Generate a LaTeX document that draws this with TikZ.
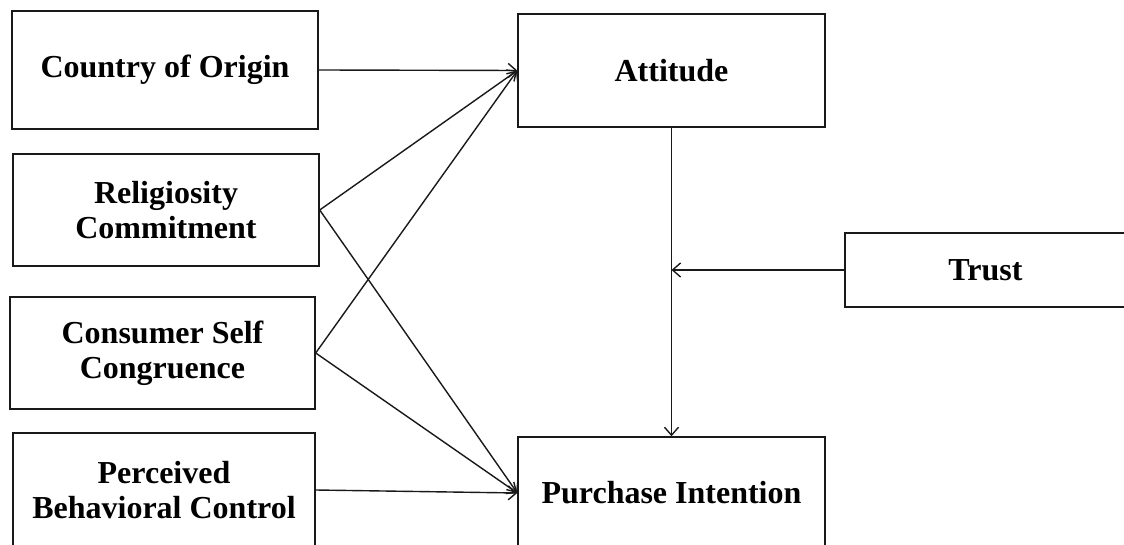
\documentclass[tikz,border=0pt]{standalone}
\usepackage{fontspec}
\setmainfont{Liberation Serif}
\usetikzlibrary{arrows.meta}
\begin{document}
\begin{tikzpicture}[x=1pt,y=-1pt,
  box/.style={draw=black!90,line width=1.4pt,rectangle,inner sep=0pt,align=center,
    font=\fontsize{32}{35}\selectfont\bfseries},
  conn/.style={draw=black!90,line width=1.4pt,-{Straight Barb[length=8pt,width=14pt,line width=1.4pt]}}]
\useasboundingbox (0,0) rectangle (1124,545);
\node[box,minimum width=306pt,minimum height=118pt] (coo) at (165,70) {\raisebox{-3pt}{Country of Origin}};
\node[box,minimum width=306pt,minimum height=112pt] (rel) at (166,210) {Religiosity\\Commitment};
\node[box,minimum width=305pt,minimum height=112pt] (csc) at (162.5,353) {Consumer Self\\Congruence};
\node[box,minimum width=302pt,minimum height=114pt] (pbc) at (164,490) {Perceived\\Behavioral Control};
\node[box,minimum width=307pt,minimum height=113pt] (att) at (671.5,70.5) {\raisebox{-2pt}{Attitude}};
\node[box,minimum width=307pt,minimum height=112pt] (pi) at (671.5,493) {Purchase Intention};
\node[box,minimum width=281pt,minimum height=74pt] (tr) at (985.5,270) {Trust};
\coordinate (m) at (att.south |- tr.west);
\draw[conn] (coo.east) -- (att.west);
\draw[conn] (rel.east) -- (att.west);
\draw[conn] (csc.east) -- (att.west);
\draw[conn] (rel.east) -- (pi.west);
\draw[conn] (csc.east) -- (pi.west);
\draw[conn] (pbc.east) -- (pi.west);
\draw[conn] (att.south) -- (pi.north);
\draw[conn] (tr.west) -- (m);
\end{tikzpicture}
\end{document}
